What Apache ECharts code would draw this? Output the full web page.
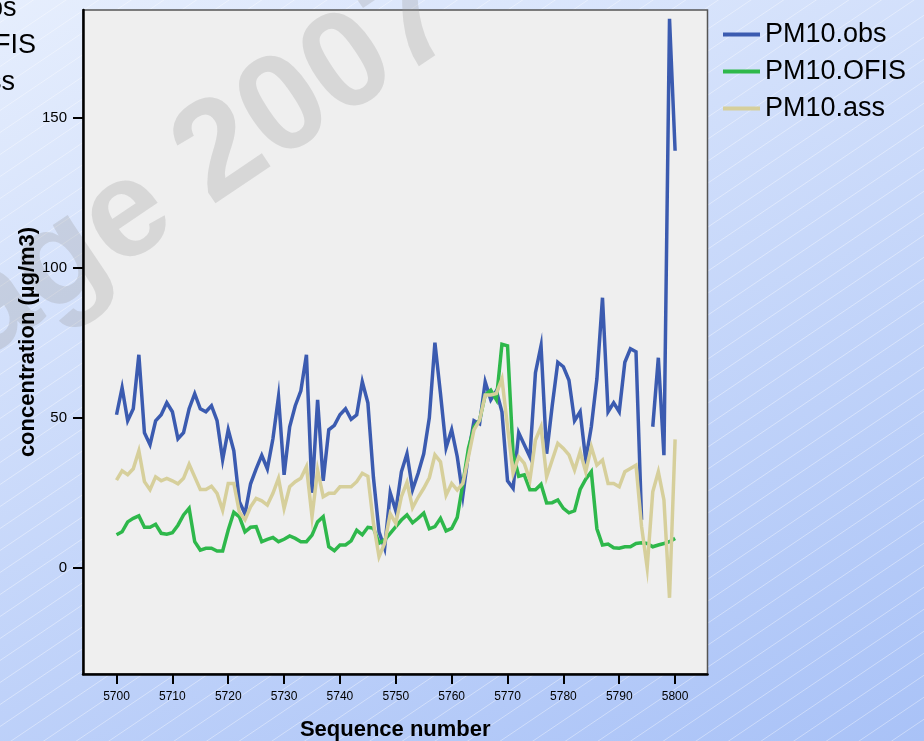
<!DOCTYPE html>
<html>
<head>
<meta charset="utf-8">
<script src="https://cdn.jsdelivr.net/npm/echarts@6/dist/echarts.min.js"></script>
<style>
  html, body { margin: 0; padding: 0; }
  #chart { width: 924px; height: 741px; }
</style>
</head>
<body>
<div id="chart"></div>
<script>
// PM10 concentrations (µg/m3) for sequence numbers 5700..5800
const seqStart = 5700;

const pm10Obs = [
  51, 60, 49, 53, 71, 45, 41, 49, 51, 55,
  52, 43, 45, 53, 58, 53, 52, 54, 49, 36,
  46, 39, 22, 18, 28, 33, 37.5, 33, 43, 57,
  31, 47, 54, 59, 71, 25, 56, 29, 46, 47.5,
  51, 53, 49.5, 51, 62, 55, 30, 12, 6.5, 25,
  19, 32, 38, 26, 31.5, 38, 50, 75, 58, 40,
  46, 37, 24, 38, 49, 48, 62, 56, 59, 52,
  29, 26.5, 45, 41, 37, 65, 74, 38, 54, 68.5,
  67, 62.5, 49, 52, 36, 47, 63, 90, 52, 55,
  52, 68.5, 73, 72, 16, null, 47, 70, 37.5, 183,
  139
];

const pm10Ofis = [
  11, 12, 15.3, 16.5, 17.3, 13.5, 13.5, 14.5, 11.5, 11.2,
  11.7, 14.2, 17.6, 19.8, 8.7, 5.9, 6.5, 6.5, 5.6, 5.6,
  12.6, 18.5, 17, 12, 13.5, 13.7, 8.7, 9.5, 10.1, 8.7,
  9.5, 10.6, 9.8, 8.7, 8.7, 10.9, 15.3, 17, 7, 5.7,
  7.6, 7.6, 9, 12.5, 11, 13.5, 13.2, 8.2, 9.3, 11.5,
  13.7, 15.9, 17.6, 15, 16.5, 18.2, 13, 13.7, 16.5, 12.3,
  13.1, 16.8, 28, 39.8, 47, 49.2, 57.6, 59.2, 56, 74.5,
  74, 38, 30.5, 31, 26, 26, 27.8, 21.6, 21.7, 22.6,
  19.8, 18.3, 19, 26.1, 29.5, 32, 13, 7.6, 7.9, 6.7,
  6.5, 7, 7, 8.1, 8.3, 8.1, 7, 7.6, 8.1, 8.7,
  9.8
];

const pm10Ass = [
  29.2, 32.3, 31, 33, 39, 28.7, 26, 30.3, 29, 29.8,
  29, 28, 29.8, 34.5, 30.3, 26.1, 26.1, 27.2, 24.8, 19.2,
  28.1, 28.1, 18.5, 16, 20.3, 23.1, 22.3, 20.9, 24.8, 29.8,
  19.8, 27, 28.7, 29.8, 33.7, 17, 32.6, 23.7, 24.8, 24.8,
  27, 27, 27, 28.7, 31.5, 30.5, 14.8, 3.7, 8.2, 18,
  14.8, 23.7, 28.5, 20, 23.5, 26.5, 30, 37.6, 35.3, 24.2,
  28.1, 25.9, 28.1, 37, 46, 49.2, 57.6, 57.6, 58.1, 63,
  47, 31.5, 37, 34.8, 29.2, 42.6, 47, 30.3, 35.9, 41.5,
  39.8, 37.6, 32.6, 38.7, 32, 40.3, 34.2, 35.9, 28.1, 28.1,
  27, 32, 33.1, 34.2, 13.7, 0, 25.3, 32, 22.6, -10,
  42.8
];

const seriesNames = ['PM10.obs', 'PM10.OFIS', 'PM10.ass'];
const seriesColors = ['#3b5bb0', '#2eb84b', '#d6cf9b'];
const xTicks = [5700, 5710, 5720, 5730, 5740, 5750, 5760, 5770, 5780, 5790, 5800];
const yTicks = [0, 50, 100, 150];

// pair each value with its sequence number
const toPairs = arr => arr.map((v, i) => [seqStart + i, v]);

// slide backdrop: diagonal blue gradient with fine white hatching
function makeBackdrop(w, h) {
  const c = document.createElement('canvas');
  c.width = w; c.height = h;
  const ctx = c.getContext('2d');
  const g = ctx.createLinearGradient(0, 0, 361, 954);
  g.addColorStop(0, '#e6eefd');
  g.addColorStop(1, '#a9c2f7');
  ctx.fillStyle = g;
  ctx.fillRect(0, 0, w, h);
  ctx.strokeStyle = 'rgba(255,255,255,0.38)';
  ctx.lineWidth = 1;
  const slope = Math.tan(34 * Math.PI / 180);
  for (let y0 = 0; y0 < h + w * slope; y0 += 22) {
    ctx.beginPath();
    ctx.moveTo(0, y0 + 0.5);
    ctx.lineTo(w, y0 - w * slope + 0.5);
    ctx.stroke();
  }
  return c;
}

const chart = echarts.init(document.getElementById('chart'), null, { renderer: 'canvas' });

const legendBase = {
  orient: 'vertical',
  icon: 'rect',
  padding: 0,
  itemWidth: 37,
  itemHeight: 4,
  itemGap: 10,
  textStyle: { fontSize: 27, color: '#000', fontFamily: 'Liberation Sans, Arial, sans-serif' },
  data: seriesNames
};

const option = {
  animation: false,
  textStyle: { fontFamily: 'Liberation Sans, Arial, sans-serif' },
  graphic: [
    {
      type: 'image', left: 0, top: 0, z: -10, silent: true,
      style: { image: makeBackdrop(924, 741), width: 924, height: 741 }
    },
    {
      type: 'text', x: 0, y: 386, rotation: 34 * Math.PI / 180, z: 1, silent: true,
      style: {
        text: 'age 2007',
        fontSize: 138, fontWeight: 'bold', fontFamily: 'Liberation Sans, Arial, sans-serif',
        fill: 'rgba(150,150,150,0.27)',
        align: 'left', verticalAlign: 'bottom'
      }
    }
  ],
  legend: [
    Object.assign({ left: 723, top: 21 }, legendBase),
    Object.assign({ left: -147, top: -5 }, legendBase)
  ],
  grid: {
    left: 83, top: 10, width: 624.5, height: 664,
    outerBoundsMode: 'none', containLabel: false,
    show: true, backgroundColor: '#efefef', borderColor: '#555', borderWidth: 1.5
  },
  xAxis: {
    type: 'value', min: 5694.0, max: 5805.8, z: 3,
    name: 'Sequence number', nameLocation: 'middle', nameGap: 45, nameMoveOverlap: false,
    nameTextStyle: { fontSize: 22, fontWeight: 'bold', color: '#000' },
    axisLine: { onZero: false, lineStyle: { color: '#000', width: 2.5 } },
    axisTick: { show: true, length: 10, lineStyle: { color: '#000', width: 2 }, customValues: xTicks },
    axisLabel: { customValues: xTicks, fontSize: 12, color: '#000', margin: 17, formatter: v => String(v) },
    splitLine: { show: false }
  },
  yAxis: {
    type: 'value', min: -35.4, max: 185.9, z: 3,
    name: 'concentration (µg/m3)', nameLocation: 'middle', nameGap: 44, nameRotate: 90, nameMoveOverlap: false,
    nameTextStyle: { fontSize: 22, fontWeight: 'bold', color: '#000' },
    axisLine: { onZero: false, lineStyle: { color: '#000', width: 2.5 } },
    axisTick: { show: true, length: 10, lineStyle: { color: '#000', width: 2 }, customValues: yTicks },
    axisLabel: { customValues: yTicks, fontSize: 15, color: '#000', margin: 16, formatter: v => String(v) },
    splitLine: { show: false }
  },
  series: [pm10Obs, pm10Ofis, pm10Ass].map((arr, k) => ({
    type: 'line',
    name: seriesNames[k],
    data: toPairs(arr),
    symbol: 'none',
    showSymbol: false,
    connectNulls: false,
    z: 2,
    itemStyle: { color: seriesColors[k] },
    lineStyle: { color: seriesColors[k], width: 3.5, join: 'miter' }
  }))
};

chart.setOption(option);
</script>
</body>
</html>
